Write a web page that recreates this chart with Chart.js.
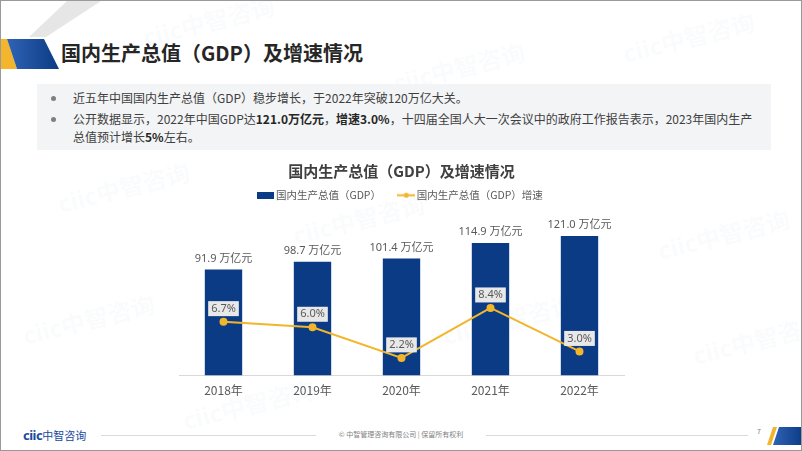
<!DOCTYPE html>
<html>
<head>
    <meta charset="utf-8">
    <title>国内生产总值（GDP）及增速情况</title>
    <script src="https://cdn.jsdelivr.net/npm/chart.js"></script>
    <style>
        body { margin: 0; background: #fff; font-family: "Noto Sans CJK SC", "Noto Sans", sans-serif; }
        #slide { position: relative; width: 802px; height: 451px; overflow: hidden; border: 1px solid #9a9a9a; box-sizing: border-box; }
        .wm { position: absolute; font: bold 24px "Noto Sans", "Noto Sans CJK SC", sans-serif; color: rgba(180, 192, 210, 0.07); transform: rotate(-14deg); white-space: nowrap; pointer-events: none; }
        #pageTitle { position: absolute; left: 60px; top: 37px; font-size: 20px; font-weight: bold; color: #262626; }
        #notes { position: absolute; left: 36px; top: 83px; width: 734px; height: 66px; background: #f3f4f6; }
        #notes ul { margin: 0; padding: 5px 12px 0 30px; font-size: 12px; line-height: 18px; color: #404040; }
        #notes li { margin-bottom: 3px; padding-left: 6px; }
        #notes li::marker { color: #7f7f7f; }
        #notes b { color: #262626; }
        #chartBox { position: absolute; left: 173px; top: 155px; width: 455px; height: 242px; }
        #footer .line { position: absolute; top: 434px; height: 1px; background: #d9d9d9; }
        #logo { position: absolute; left: 22px; top: 425px; font-size: 11px; color: #1b4a9c; }
        #logo b { font-family: "Noto Sans", sans-serif; font-size: 13px; letter-spacing: -0.5px; }
        #copy { position: absolute; left: 330px; top: 428px; width: 140px; text-align: center; font-size: 7px; color: #7f7f7f; }
        #pageNo { position: absolute; left: 756px; top: 425px; font-size: 7px; color: #7f7f7f; }
    </style>
</head>
<body>
<div id="slide">
    <div class="wm" style="left:140px; top:2px;">ciic中智咨询</div>
    <div class="wm" style="left:390px; top:48px;">ciic中智咨询</div>
    <div class="wm" style="left:620px; top:18px;">ciic中智咨询</div>
    <div class="wm" style="left:55px; top:168px;">ciic中智咨询</div>
    <div class="wm" style="left:290px; top:200px;">ciic中智咨询</div>
    <div class="wm" style="left:655px; top:215px;">ciic中智咨询</div>
    <div class="wm" style="left:20px; top:300px;">ciic中智咨询</div>
    <div class="wm" style="left:440px; top:300px;">ciic中智咨询</div>
    <div class="wm" style="left:690px; top:320px;">ciic中智咨询</div>
    <div class="wm" style="left:180px; top:385px;">ciic中智咨询</div>

    <svg width="802" height="451" style="position:absolute; left:0; top:0;">
        <defs>
            <linearGradient id="blueGrad" x1="0" x2="1" y1="0" y2="0">
                <stop offset="0" stop-color="#2f63b4"/>
                <stop offset="1" stop-color="#0b3b85"/>
            </linearGradient>
        </defs>
        <polygon points="66,0 100,0 45,36 28,36" fill="#e6e6e6"/>
        <polygon points="0,38 6,38 16,68 0,68" fill="#f2b52b"/>
        <polygon points="6,38 43,38 58,68 16,68" fill="url(#blueGrad)"/>
        <polygon points="766,444 772,426 776,426 770,444" fill="#f2b52b"/>
        <polygon points="772,444 778,426 802,426 802,444" fill="url(#blueGrad)"/>
    </svg>

    <div id="pageTitle">国内生产总值（GDP）及增速情况</div>
    <div id="notes">
        <ul>
            <li>近五年中国国内生产总值（GDP）稳步增长，于2022年突破120万亿大关。</li>
            <li>公开数据显示，2022年中国GDP达<b>121.0万亿元</b>，<b>增速3.0%</b>，十四届全国人大一次会议中的政府工作报告表示，2023年国内生产总值预计增长<b>5%</b>左右。</li>
        </ul>
    </div>

    <div id="chartBox"><canvas id="gdpChart"></canvas></div>

    <div id="footer">
        <div id="logo"><b>ciic</b>中智咨询</div>
        <div class="line" style="left:100px; width:215px;"></div>
        <div id="copy">© 中智管理咨询有限公司 | 保留所有权利</div>
        <div class="line" style="left:485px; width:262px;"></div>
        <div id="pageNo">7</div>
    </div>
</div>

<script>
    const years = ['2018年', '2019年', '2020年', '2021年', '2022年'];
    const gdpValues = [91.9, 98.7, 101.4, 114.9, 121.0];
    const growthRates = [6.7, 6.0, 2.2, 8.4, 3.0];
    const gdpLabel = '国内生产总值（GDP）';
    const growthLabel = '国内生产总值（GDP）增速';

    const barColor = '#0b3b85';
    const lineColor = '#f2b52b';
    const textGray = '#595959';

    // legend swatches drawn by hand so the line item shows line + dot
    function barSwatch() {
        const c = document.createElement('canvas');
        c.width = 17; c.height = 7;
        const g = c.getContext('2d');
        g.fillStyle = barColor;
        g.fillRect(0, 0, 17, 7);
        return c;
    }
    function lineSwatch() {
        const c = document.createElement('canvas');
        c.width = 18; c.height = 7;
        const g = c.getContext('2d');
        g.strokeStyle = lineColor;
        g.lineWidth = 2;
        g.beginPath(); g.moveTo(0, 3.5); g.lineTo(18, 3.5); g.stroke();
        g.fillStyle = lineColor;
        g.beginPath(); g.arc(9, 3.5, 2.5, 0, Math.PI * 2); g.fill();
        return c;
    }

    const valueLabels = {
        id: 'valueLabels',
        afterDatasetsDraw(chart) {
            const ctx = chart.ctx;
            ctx.save();
            ctx.font = '11px "Noto Sans", "Noto Sans CJK SC", sans-serif';
            ctx.textAlign = 'center';
            ctx.textBaseline = 'middle';

            // dataset 0 = bars
            chart.getDatasetMeta(0).data.forEach((bar, i) => {
                ctx.fillStyle = textGray;
                ctx.fillText(gdpValues[i].toFixed(1) + ' 万亿元', bar.x, bar.y - 11);
            });

            // dataset 1 = growth line
            chart.getDatasetMeta(1).data.forEach((pt, i) => {
                const txt = growthRates[i].toFixed(1) + '%';
                const w = ctx.measureText(txt).width + 6;
                const h = 15;
                const cy = pt.y - 13;
                ctx.fillStyle = '#e8e8e8';
                ctx.fillRect(pt.x - w / 2, cy - h / 2, w, h);
                ctx.fillStyle = textGray;
                ctx.fillText(txt, pt.x, cy);
            });
            ctx.restore();
        }
    };

    const ctx = document.getElementById('gdpChart').getContext('2d');
    new Chart(ctx, {
        data: {
            labels: years,
            datasets: [
                {
                    type: 'bar',
                    label: gdpLabel,
                    data: gdpValues,
                    yAxisID: 'y',
                    backgroundColor: barColor,
                    barPercentage: 0.42,
                    categoryPercentage: 1,
                    order: 1
                },
                {
                    type: 'line',
                    label: growthLabel,
                    data: growthRates,
                    yAxisID: 'y1',
                    borderColor: lineColor,
                    backgroundColor: lineColor,
                    borderWidth: 2,
                    pointRadius: 3,
                    pointHoverRadius: 3,
                    order: 0
                }
            ]
        },
        options: {
            responsive: true,
            maintainAspectRatio: false,
            animation: false,
            layout: { padding: 0 },
            plugins: {
                title: {
                    display: true,
                    text: '国内生产总值（GDP）及增速情况',
                    color: '#404040',
                    font: { size: 15, weight: 'bold', family: '"Noto Sans CJK SC", sans-serif' },
                    padding: { top: 6, bottom: -10 }
                },
                legend: {
                    labels: {
                        usePointStyle: true,
                        color: textGray,
                        font: { size: 10.5, family: '"Noto Sans CJK SC", sans-serif' },
                        padding: 20,
                        generateLabels(chart) {
                            return [
                                { text: gdpLabel, pointStyle: barSwatch(), fontColor: textGray, datasetIndex: 0, lineWidth: 0, strokeStyle: 'transparent' },
                                { text: growthLabel, pointStyle: lineSwatch(), fontColor: textGray, datasetIndex: 1, lineWidth: 0, strokeStyle: 'transparent' }
                            ];
                        }
                    }
                },
                tooltip: { enabled: false }
            },
            scales: {
                x: {
                    grid: { display: false },
                    border: { color: '#d9d9d9' },
                    ticks: { color: textGray, padding: 0, font: { size: 12, family: '"Noto Sans CJK SC", sans-serif' } }
                },
                y: { display: false, min: 0, max: 143 },
                y1: { display: false, min: 0, max: 20.5 }
            }
        },
        plugins: [valueLabels]
    });
</script>
</body>
</html>
